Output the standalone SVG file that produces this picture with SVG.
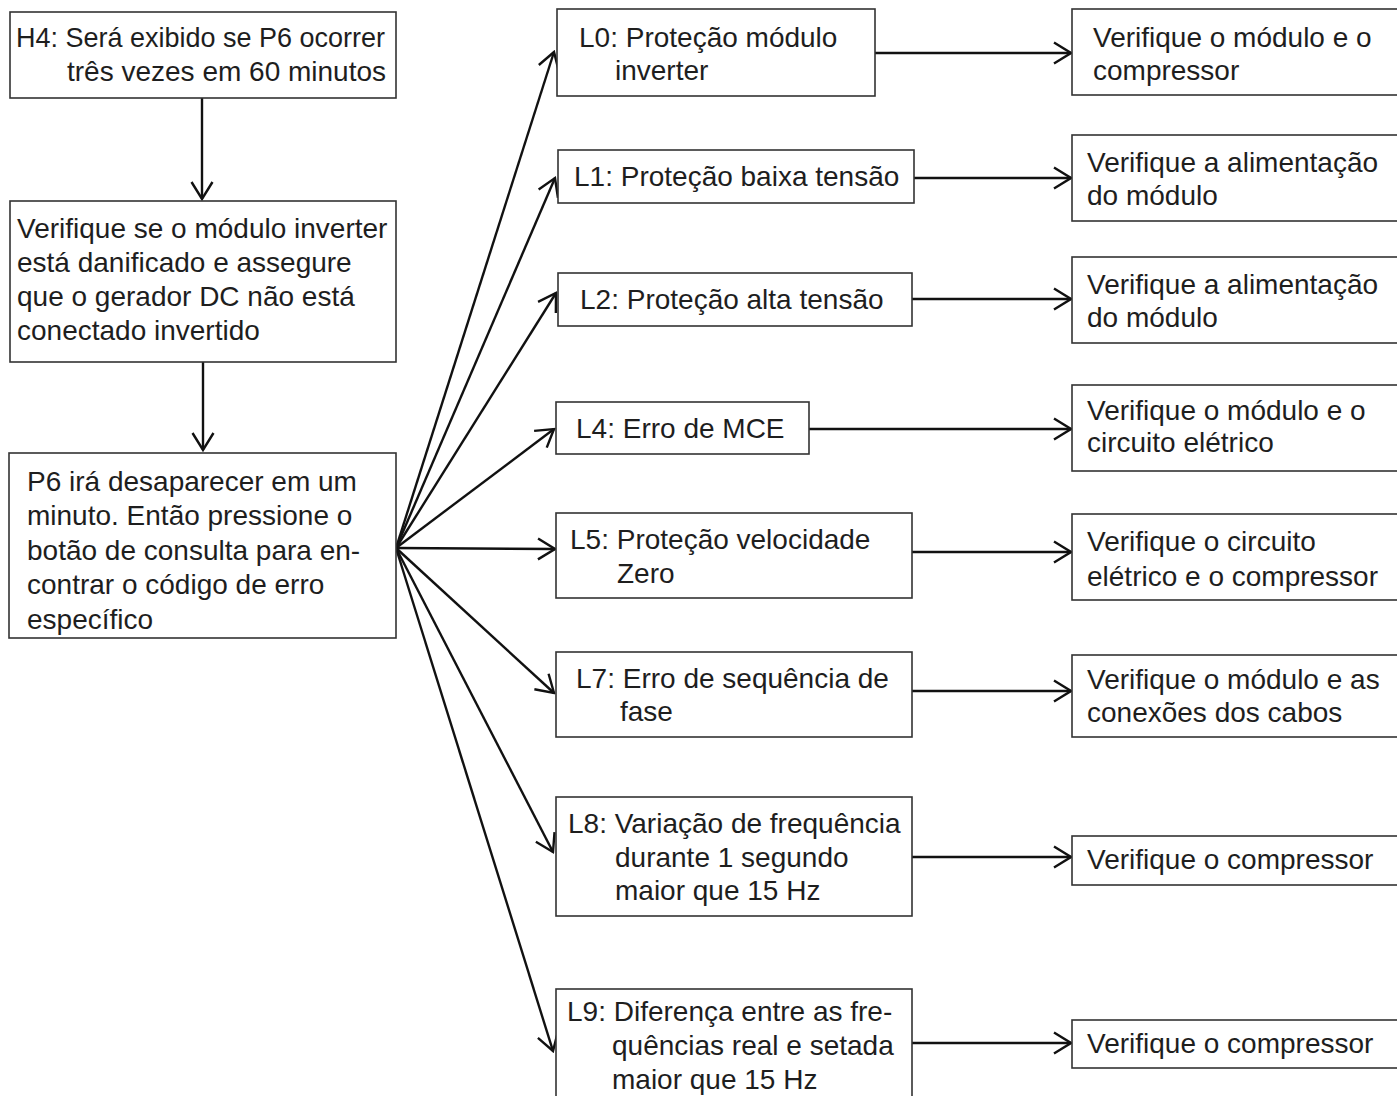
<svg xmlns="http://www.w3.org/2000/svg" width="1397" height="1096" viewBox="0 0 1397 1096">
<style>
.box{fill:#fff;stroke:#333;stroke-width:1.6}
.t{font-family:"Liberation Sans",Arial,sans-serif;font-size:28px;fill:#1e1e1e}
.c{fill:none;stroke:#111;stroke-width:2.4}
</style>
<defs>
<marker id="ah" viewBox="0 0 20 24" refX="18" refY="12" markerWidth="20" markerHeight="24" markerUnits="userSpaceOnUse" orient="auto">
<path d="M1,1.5 L18,12 L1,22.5" fill="none" stroke="#111" stroke-width="2.4"/>
</marker>
</defs>
<rect width="1397" height="1096" fill="#fff"/>
<g id="connectors">
<line class="c" x1="202" y1="98" x2="202" y2="199" marker-end="url(#ah)"/>
<line class="c" x1="203" y1="362" x2="203" y2="450" marker-end="url(#ah)"/>
<line class="c" x1="396" y1="548" x2="554" y2="52" marker-end="url(#ah)"/>
<line class="c" x1="396" y1="548" x2="555" y2="178" marker-end="url(#ah)"/>
<line class="c" x1="396" y1="548" x2="556" y2="293" marker-end="url(#ah)"/>
<line class="c" x1="396" y1="548" x2="554" y2="429" marker-end="url(#ah)"/>
<line class="c" x1="396" y1="548" x2="555" y2="549" marker-end="url(#ah)"/>
<line class="c" x1="396" y1="548" x2="554" y2="693" marker-end="url(#ah)"/>
<line class="c" x1="396" y1="548" x2="553" y2="852" marker-end="url(#ah)"/>
<line class="c" x1="396" y1="548" x2="553" y2="1051" marker-end="url(#ah)"/>
<line class="c" x1="875" y1="53" x2="1071" y2="53" marker-end="url(#ah)"/>
<line class="c" x1="914" y1="178" x2="1071" y2="178" marker-end="url(#ah)"/>
<line class="c" x1="912" y1="299" x2="1071" y2="299" marker-end="url(#ah)"/>
<line class="c" x1="809" y1="429" x2="1071" y2="429" marker-end="url(#ah)"/>
<line class="c" x1="912" y1="552" x2="1071" y2="552" marker-end="url(#ah)"/>
<line class="c" x1="912" y1="691" x2="1071" y2="691" marker-end="url(#ah)"/>
<line class="c" x1="912" y1="857" x2="1071" y2="857" marker-end="url(#ah)"/>
<line class="c" x1="912" y1="1043" x2="1071" y2="1043" marker-end="url(#ah)"/>
</g>
<g id="h4">
<rect class="box" x="10" y="12" width="386" height="86"/>
<text class="t" x="16" y="47" textLength="369" lengthAdjust="spacingAndGlyphs">H4: Será exibido se P6 ocorrer</text>
<text class="t" x="67" y="81">três vezes em 60 minutos</text>
</g>
<g id="check-module">
<rect class="box" x="10" y="201" width="386" height="161"/>
<text class="t" x="17" y="238">Verifique se o módulo inverter</text>
<text class="t" x="17" y="272">está danificado e assegure</text>
<text class="t" x="17" y="306">que o gerador DC não está</text>
<text class="t" x="17" y="340">conectado invertido</text>
</g>
<g id="p6">
<rect class="box" x="9" y="453" width="387" height="185"/>
<text class="t" x="27" y="491">P6 irá desaparecer em um</text>
<text class="t" x="27" y="525">minuto. Então pressione o</text>
<text class="t" x="27" y="560">botão de consulta para en-</text>
<text class="t" x="27" y="594">contrar o código de erro</text>
<text class="t" x="27" y="629">específico</text>
</g>
<g id="l0">
<rect class="box" x="557" y="9" width="318" height="87"/>
<text class="t" x="579" y="47">L0: Proteção módulo</text>
<text class="t" x="615" y="80">inverter</text>
</g>
<g id="l1">
<rect class="box" x="558" y="150" width="356" height="53"/>
<text class="t" x="574" y="186">L1: Proteção baixa tensão</text>
</g>
<g id="l2">
<rect class="box" x="558" y="273" width="354" height="53"/>
<text class="t" x="580" y="309">L2: Proteção alta tensão</text>
</g>
<g id="l4">
<rect class="box" x="556" y="402" width="253" height="52"/>
<text class="t" x="576" y="438">L4: Erro de MCE</text>
</g>
<g id="l5">
<rect class="box" x="556" y="513" width="356" height="85"/>
<text class="t" x="570" y="549">L5: Proteção velocidade</text>
<text class="t" x="617" y="583">Zero</text>
</g>
<g id="l7">
<rect class="box" x="556" y="652" width="356" height="85"/>
<text class="t" x="576" y="688">L7: Erro de sequência de</text>
<text class="t" x="620" y="721">fase</text>
</g>
<g id="l8">
<rect class="box" x="556" y="797" width="356" height="119"/>
<text class="t" x="568" y="833">L8: Variação de frequência</text>
<text class="t" x="615" y="867">durante 1 segundo</text>
<text class="t" x="615" y="900">maior que 15 Hz</text>
</g>
<g id="l9">
<rect class="box" x="556" y="989" width="356" height="120"/>
<text class="t" x="567" y="1021">L9: Diferença entre as fre-</text>
<text class="t" x="612" y="1055">quências real e setada</text>
<text class="t" x="612" y="1089">maior que 15 Hz</text>
</g>
<g id="r0">
<rect class="box" x="1072" y="9" width="340" height="86"/>
<text class="t" x="1093" y="47">Verifique o módulo e o</text>
<text class="t" x="1093" y="80">compressor</text>
</g>
<g id="r1">
<rect class="box" x="1072" y="135" width="340" height="86"/>
<text class="t" x="1087" y="172">Verifique a alimentação</text>
<text class="t" x="1087" y="205">do módulo</text>
</g>
<g id="r2">
<rect class="box" x="1072" y="257" width="340" height="86"/>
<text class="t" x="1087" y="294">Verifique a alimentação</text>
<text class="t" x="1087" y="327">do módulo</text>
</g>
<g id="r4">
<rect class="box" x="1072" y="385" width="340" height="86"/>
<text class="t" x="1087" y="420">Verifique o módulo e o</text>
<text class="t" x="1087" y="452">circuito elétrico</text>
</g>
<g id="r5">
<rect class="box" x="1072" y="514" width="340" height="86"/>
<text class="t" x="1087" y="551">Verifique o circuito</text>
<text class="t" x="1087" y="586">elétrico e o compressor</text>
</g>
<g id="r7">
<rect class="box" x="1072" y="655" width="340" height="82"/>
<text class="t" x="1087" y="689">Verifique o módulo e as</text>
<text class="t" x="1087" y="722">conexões dos cabos</text>
</g>
<g id="r8">
<rect class="box" x="1072" y="836" width="340" height="49"/>
<text class="t" x="1087" y="869">Verifique o compressor</text>
</g>
<g id="r9">
<rect class="box" x="1072" y="1020" width="340" height="48"/>
<text class="t" x="1087" y="1053">Verifique o compressor</text>
</g>
</svg>
